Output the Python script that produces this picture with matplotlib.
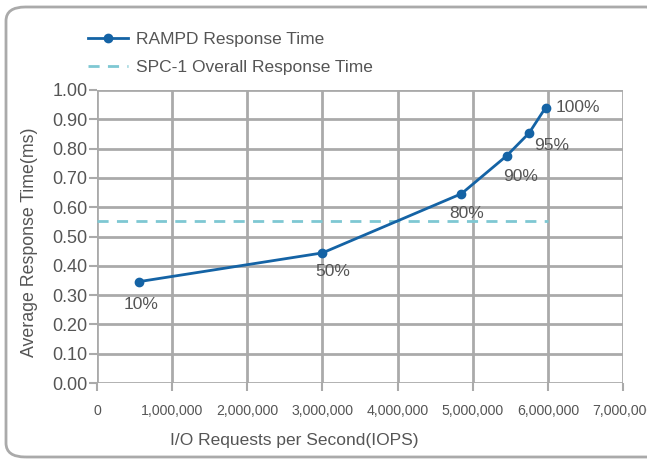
import matplotlib.pyplot as plt
from matplotlib.patches import FancyBboxPatch
from matplotlib.ticker import FuncFormatter

# data
iops = [560000, 3000000, 4850000, 5450000, 5750000, 5970000]
resp = [0.346, 0.444, 0.646, 0.775, 0.853, 0.94]
pct_labels = ['10%', '50%', '80%', '90%', '95%', '100%']
spc1_x = [0, 6000000]
spc1_y = [0.552, 0.552]

# label offsets in pixels (ha, dx, dy)
label_pos = [('center', 2, -23), ('center', 10, -19), ('center', 5, -20),
             ('center', 14, -21), ('center', 23, -12), ('left', 10, 0)]

plt.rcParams['font.family'] = ['Liberation Sans', 'DejaVu Sans']
txt = '#555555'
grid_c = '#aaaaaa'

fig = plt.figure(figsize=(6.47, 4.63), dpi=100)
ax = fig.add_axes([97 / 647, 1 - 383 / 463, 526 / 647, 293 / 463])

# rounded outer frame
fig.patches.append(FancyBboxPatch((6 / 647, 6 / 463), 660 / 647, 450 / 463,
                                  boxstyle='round,pad=0,rounding_size=0.03',
                                  transform=fig.transFigure, fill=False,
                                  ec='#aaaaaa', lw=2, clip_on=False))

ax.plot(spc1_x, spc1_y, ls=(0, (4, 3)), color='#7ec8d3', lw=2,
        label='SPC-1 Overall Response Time', zorder=3)
ax.plot(iops, resp, '-o', color='#1463a5', lw=2, ms=6,
        label='RAMPD Response Time', zorder=4)

for x, y, s, (ha, dx, dy) in zip(iops, resp, pct_labels, label_pos):
    ax.annotate(s, (x, y), xytext=(dx, dy), textcoords='offset pixels',
                ha=ha, va='center', fontsize=12.5, color=txt)

ax.set_xlim(0, 7000000)
ax.set_ylim(0, 1.0)
ax.set_xticks(range(0, 7000001, 1000000))
ax.set_yticks([i / 10 for i in range(11)])
ax.xaxis.set_major_formatter(FuncFormatter(lambda v, p: f'{int(v):,}'))
ax.yaxis.set_major_formatter(FuncFormatter(lambda v, p: f'{v:.2f}'))
ax.grid(True, color=grid_c, lw=2)
ax.set_axisbelow(True)
for s in ax.spines.values():
    s.set_visible(False)
ax.tick_params(axis='both', colors=grid_c, width=1.5, length=6, labelcolor=txt)
ax.tick_params(axis='y', labelsize=13, pad=1)
ax.tick_params(axis='x', labelsize=10.2, pad=9)

ax.set_ylabel('Average Response Time(ms)', fontsize=12.8, color=txt)
ax.yaxis.set_label_coords(-0.113, 0.48)
fig.text(294 / 647, 1 - 440 / 463, 'I/O Requests per Second(IOPS)', ha='center',
         va='center', fontsize=12.5, color=txt)

h, l = ax.get_legend_handles_labels()
leg = fig.legend(h[::-1], l[::-1], loc='upper left', bbox_to_anchor=(72 / 647, 1 - 16 / 463),
                 frameon=False, fontsize=12.5, labelcolor=txt, handlelength=2.3,
                 labelspacing=0.75, handletextpad=0.5)

fig.savefig('out.png', dpi=100)
